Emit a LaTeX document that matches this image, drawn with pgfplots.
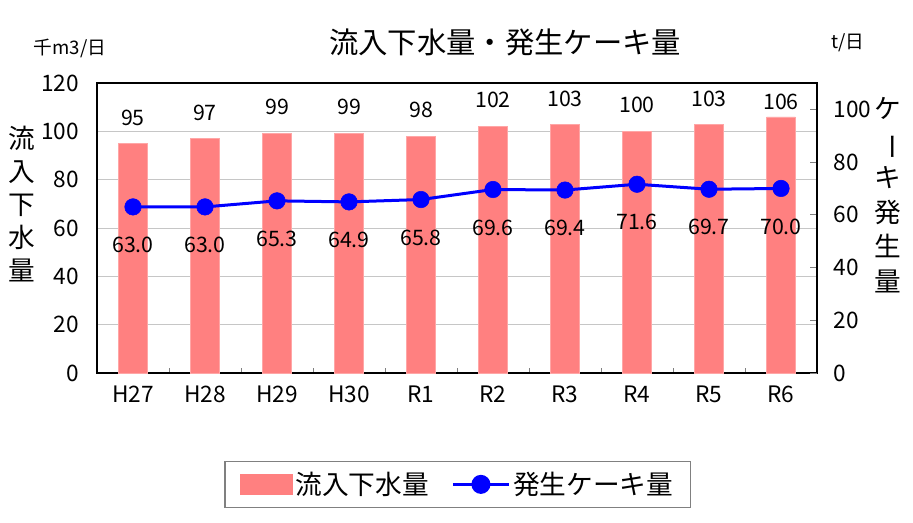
\documentclass[border=0pt]{standalone}
\usepackage{graphicx}
\usepackage{pgfplots}
\pgfplotsset{compat=1.18}
\usepackage{fontspec}
\setmainfont{Noto Sans CJK JP}

\definecolor{barpink}{RGB}{255,128,128}
\definecolor{lineblue}{RGB}{0,0,255}

\begin{document}
\begin{tikzpicture}
\path[use as bounding box] (0,0) rectangle (684.75pt,391.5pt);

% left axis: inflow (bars)
\begin{axis}[
  at={(72.75pt,111.75pt)}, anchor=south west,
  scale only axis, width=540pt, height=217.5pt,
  xmin=-0.5, xmax=9.5, ymin=0, ymax=120,
  /pgf/number format/assume math mode=true,
  axis line style={line width=1.5pt},
  xtick={0,...,9},
  xticklabels={H27,H28,H29,H30,R1,R2,R3,R4,R5,R6},
  xtick pos=bottom,
  major x tick style={draw=none},
  minor xtick={0.5,1.5,...,8.5},
  minor tick length=4pt,
  xtick align=inside,
  minor x tick style={line width=0.6pt},
  ytick={0,20,...,120},
  ytick pos=left,
  major y tick style={draw=none},
  ymajorgrids,
  grid style={gray!45, line width=0.5pt},
  tick label style={font=\fontsize{17pt}{17pt}\selectfont},
  xticklabel style={yshift=-6pt},
  yticklabel style={xshift=-10pt},
  clip=false,
]
\addplot[ybar, bar width=0.4, fill=barpink, draw=barpink!70!white, line width=0.4pt]
  coordinates {(0,95) (1,97) (2,99) (3,99) (4,98) (5,102) (6,103) (7,100) (8,103) (9,106)};
% bar value labels
\addplot[draw=none, mark=none, nodes near coords, point meta=explicit symbolic,
  nodes near coords style={anchor=center, font=\fontsize{16pt}{16pt}\selectfont, text=black}]
  coordinates {(0,105.5)[95] (1,107.6)[97] (2,110.1)[99] (3,110.1)[99] (4,108.8)[98]
               (5,113.0)[102] (6,113.4)[103] (7,110.9)[100] (8,113.4)[103] (9,112.2)[106]};
\end{axis}

% right axis: cake (line)
\begin{axis}[
  at={(72.75pt,111.75pt)}, anchor=south west,
  scale only axis, width=540pt, height=217.5pt,
  xmin=-0.5, xmax=9.5, ymin=0, ymax=110,
  /pgf/number format/assume math mode=true,
  axis x line=none,
  axis y line*=right,
  axis line style={line width=1.5pt},
  ytick={0,20,...,100},
  ytick align=inside,
  major tick length=5pt,
  y tick style={line width=0.6pt},
  tick label style={font=\fontsize{17pt}{17pt}\selectfont},
  yticklabel style={xshift=9pt},
  clip=false,
  legend style={at={(0.501,-0.384)}, anchor=center, draw=gray, line width=0.8pt,
    font=\fontsize{20pt}{20pt}\selectfont, inner xsep=11pt, inner ysep=6pt,
    /tikz/every even column/.append style={column sep=15pt}},
  legend columns=2,
  legend cell align=left,
]
\addlegendimage{legend image code/.code={\fill[barpink] (0pt,-7.5pt) rectangle (39pt,7.5pt);}}
\addlegendentry{流入下水量}
\addplot[lineblue, line width=2.25pt, mark=*, mark size=6.2pt,
  mark options={solid, fill=lineblue, draw=lineblue, line width=0.4pt},
  nodes near coords={\pgfmathprintnumber[fixed, fixed zerofill, precision=1]{\pgfplotspointmeta}},
  point meta=y,
  nodes near coords style={anchor=center, yshift=-28.5pt, text=black,
    font=\fontsize{16pt}{16pt}\selectfont},
  legend image code/.code={\draw[lineblue, line width=2.25pt] (0pt,0pt) -- (42pt,0pt);
    \fill[lineblue] (21pt,0pt) circle (6pt);}]
  coordinates {(0,63.0) (1,63.0) (2,65.3) (3,64.9) (4,65.8) (5,69.6) (6,69.4) (7,71.6) (8,69.7) (9,70.0)};
\addlegendentry{発生ケーキ量}
\end{axis}

\node[font=\fontsize{22pt}{22pt}\selectfont] at (378.75pt,360pt) {流入下水量・発生ケーキ量};
\node[font=\fontsize{14pt}{14pt}\selectfont] at (52.5pt,355.5pt) {千m3/日};
\node[font=\fontsize{14pt}{14pt}\selectfont] at (636pt,359.25pt) {t/日};
\node[align=center, font=\fontsize{20pt}{24.75pt}\selectfont] at (16.5pt,238.5pt)
  {流\\入\\下\\水\\量};
\node[align=center, font=\fontsize{20pt}{26pt}\selectfont] at (666pt,245.25pt)
  {ケ\\\rotatebox[origin=c]{-90}{ー}\\キ\\発\\生\\量};
\end{tikzpicture}
\end{document}
